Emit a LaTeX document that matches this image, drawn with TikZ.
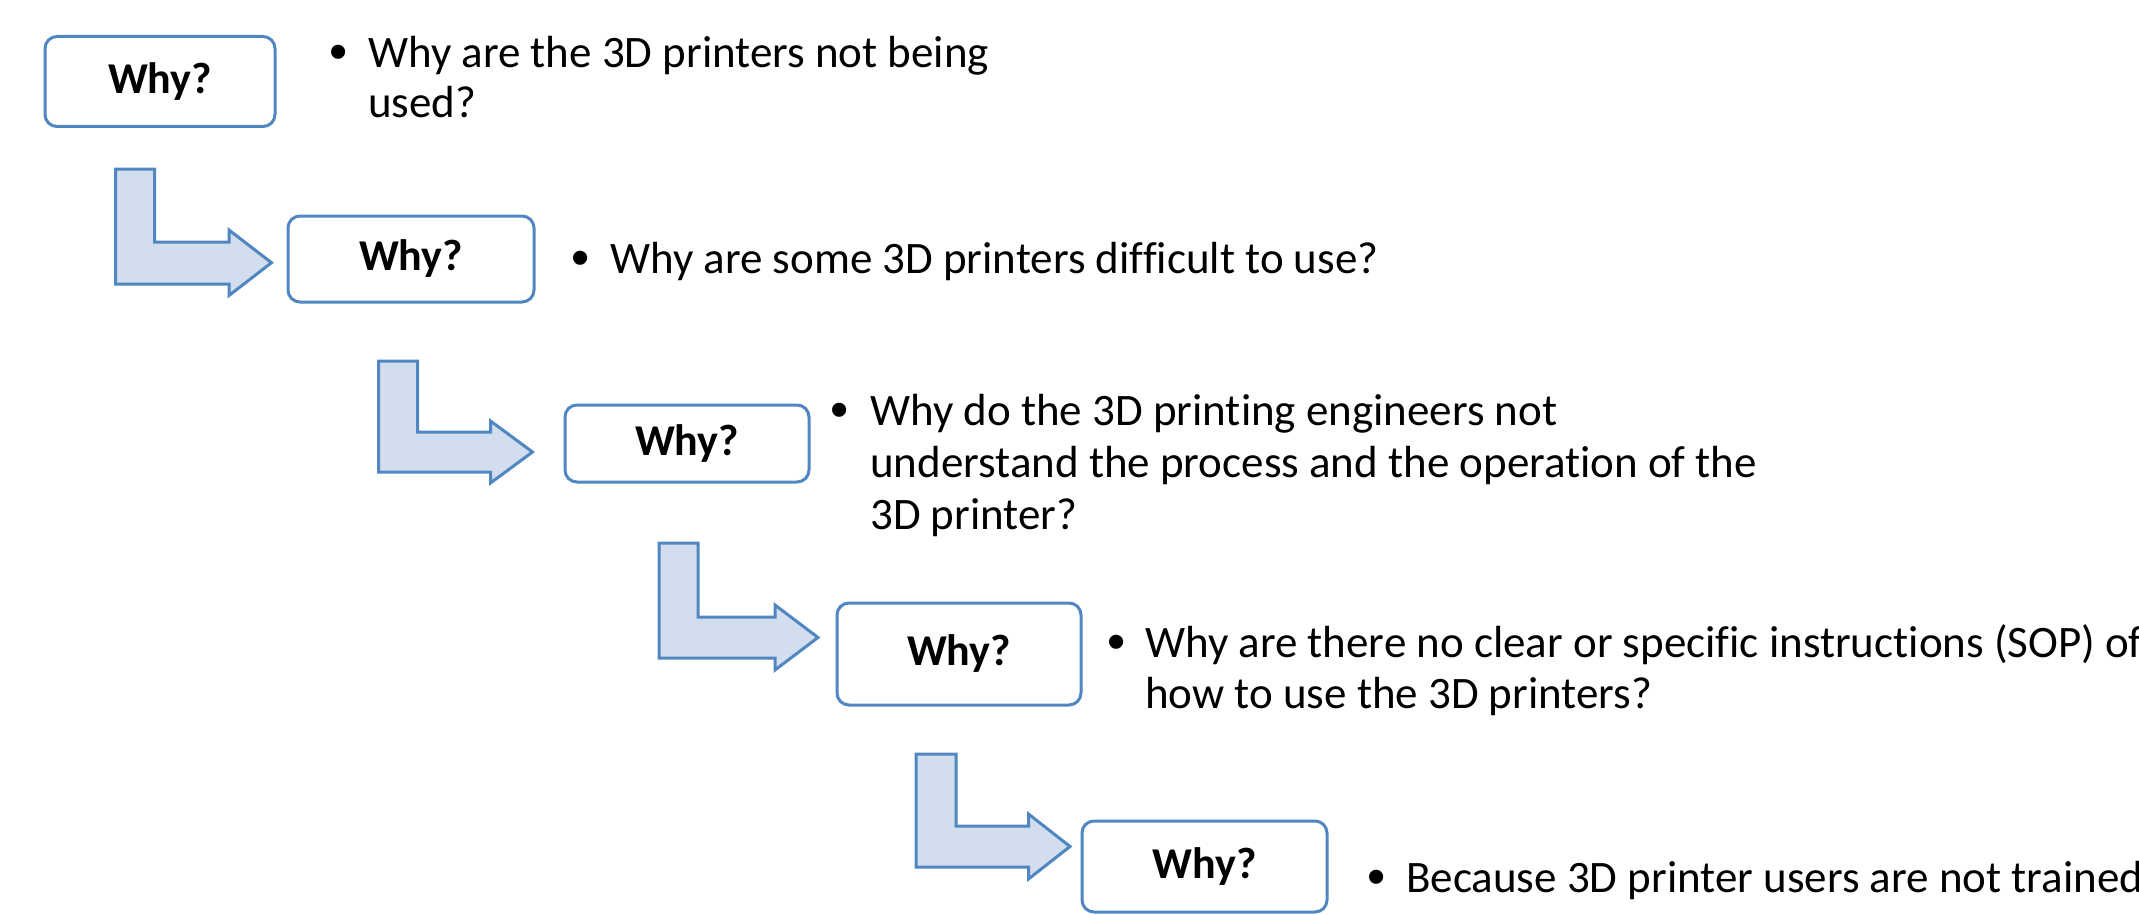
\documentclass[tikz,border=0pt]{standalone}
\usepackage{fontspec}
\setmainfont{Carlito}[Ligatures=NoCommon]
\newfontfamily\bulletfont{Liberation Sans}
\definecolor{boxline}{RGB}{80,134,193}
\definecolor{arrowfill}{RGB}{210,222,238}
\tikzset{
  whybox/.style={draw=boxline, line width=3pt, rounded corners=12pt, fill=white,
    font=\fontsize{44}{52}\selectfont\bfseries, inner sep=0pt},
  bentarrow/.style={draw=boxline, line width=3pt, fill=arrowfill, line join=miter},
  txt/.style={anchor=base west, inner sep=0pt, font=\fontsize{45}{52}\selectfont},
  bul/.style={anchor=base west, inner sep=0pt, font=\fontsize{52}{52}\bulletfont},
}
\begin{document}
\begin{tikzpicture}[x=1pt,y=-1pt]
\useasboundingbox (0,0) rectangle (2139,915);
\clip (0,0) rectangle (2139,915);
% boxes
\node[whybox, minimum width=230pt, minimum height=90pt] (w1) at (160,81.5) {Why?};
\node[whybox, minimum width=246pt, minimum height=86pt] (w2) at (411,259) {Why?};
\node[whybox, minimum width=244pt, minimum height=77pt] (w3) at (687,443.5) {Why?};
\node[whybox, minimum width=244pt, minimum height=102pt] (w4) at (959,654) {Why?};
\node[whybox, minimum width=245pt, minimum height=91pt] (w5) at (1204.5,866.5) {Why?};
% bent arrows
\draw[bentarrow] (115.5,169) -- (115.5,284) -- (229,284) -- (229,295.5) -- (271.5,262.7) -- (229,230) -- (229,242) -- (154.5,242) -- (154.5,169) -- cycle;
\draw[bentarrow] (378.5,361) -- (378.5,472) -- (490.5,472) -- (490.5,483) -- (532.5,452) -- (490.5,421) -- (490.5,432) -- (417.5,432) -- (417.5,361) -- cycle;
\draw[bentarrow] (659,543) -- (659,658) -- (775,658) -- (775,670) -- (818,637.5) -- (775,605) -- (775,617) -- (698,617) -- (698,543) -- cycle;
\draw[bentarrow] (916,754) -- (916,867) -- (1028.5,867) -- (1028.5,879) -- (1070,846.5) -- (1028.5,814) -- (1028.5,826) -- (956,826) -- (956,754) -- cycle;
% texts
\node[bul] (b1) at (329,70) {•};
\node[txt] (t1a) at (368,68) {Why are the 3D printers not being};
\node[txt] (t1b) at (368,118) {used?};
\node[bul] (b2) at (571,275) {•};
\node[txt] (t2a) at (610,273) {Why are some 3D printers difficult to use?};
\node[bul] (b3) at (830,427) {•};
\node[txt] (t3a) at (870,425) {Why do the 3D printing engineers not};
\node[txt] (t3b) at (870,477) {understand the process and the operation of the};
\node[txt] (t3c) at (870,529) {3D printer?};
\node[bul] (b4) at (1107,659) {•};
\node[txt] (t4a) at (1145,657) {Why are there no clear or specific instructions (SOP) of};
\node[txt] (t4b) at (1145,708) {how to use the 3D printers?};
\node[bul] (b5) at (1367,894) {•};
\node[txt] (t5a) at (1406,892) {Because 3D printer users are not trained};
\end{tikzpicture}
\end{document}
